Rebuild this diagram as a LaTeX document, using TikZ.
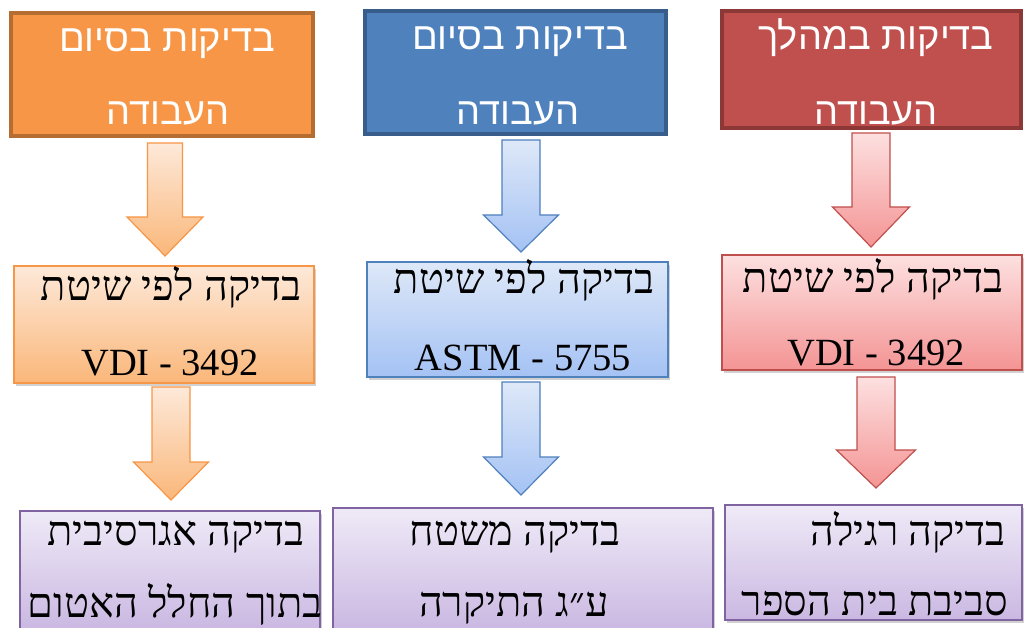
\documentclass[tikz,border=0pt]{standalone}
\usepackage{fontspec}
\setmainfont{Liberation Serif}
\newfontfamily\hebsans[Script=Hebrew]{Liberation Sans}
\newfontfamily\hebserif[Script=Hebrew]{Liberation Serif}
\TeXXeTstate=1
\usetikzlibrary{shadows}
\definecolor{orfill}{HTML}{F79646}
\definecolor{orline}{HTML}{B66D31}
\definecolor{blfill}{HTML}{4F81BD}
\definecolor{blline}{HTML}{385D8A}
\definecolor{rdfill}{HTML}{C0504D}
\definecolor{rdline}{HTML}{8C3836}
\definecolor{orA}{HTML}{FDE9D9}
\definecolor{orB}{HTML}{FAB77A}
\definecolor{blA}{HTML}{DEE8F8}
\definecolor{blB}{HTML}{A4C2F4}
\definecolor{rdA}{HTML}{FDE0E0}
\definecolor{rdB}{HTML}{F49494}
\definecolor{puA}{HTML}{EFEAF7}
\definecolor{puB}{HTML}{CAB8E2}
\definecolor{puline}{HTML}{8064A2}
\tikzset{
  box/.style={rectangle, inner sep=0pt, outer sep=0pt},
  topbox/.style={box, line width=3.5pt},
  gradbox/.style 2 args={box, line width=1.2pt, draw=#2, top color=#1A, bottom color=#1B,
     drop shadow={shadow xshift=2pt, shadow yshift=-3pt, opacity=0.18, fill=black}},
  arrowshape/.style 2 args={line width=1.2pt, draw=#2, top color=#1A, bottom color=#1B, line join=miter},
  toptxt/.style={anchor=base, inner sep=0pt, text=white, font=\hebsans\fontsize{38}{40}\selectfont},
  heb/.style={anchor=base, inner sep=0pt, text=black, font=\hebserif\fontsize{41.5}{44}\selectfont},
  lat/.style={anchor=base, inner sep=0pt, text=black, font=\fontsize{38.5}{40}\selectfont},
}
% block arrow: cx, ytop, yhead, ytip, half shaft, half head
\newcommand{\blockarrow}[8]{%
  \shade[arrowshape={#7}{#8}]
    (#1-#5,#2) -- (#1+#5,#2) -- (#1+#5,#3) -- (#1+#6,#3) -- (#1,#4)
    -- (#1-#6,#3) -- (#1-#5,#3) -- cycle;}
\begin{document}
\begin{tikzpicture}[x=1pt,y=-1pt]
\useasboundingbox[fill=white] (0,0) rectangle (1024,628);

% top row
\node[topbox, fill=orfill, draw=orline, minimum width=302pt, minimum height=123pt] (o1) at (162,74.5) {};
\node[topbox, fill=blfill, draw=blline, minimum width=301pt, minimum height=123pt] (b1) at (515.5,72.5) {};
\node[topbox, fill=rdfill, draw=rdline, minimum width=299pt, minimum height=117pt] (r1) at (871.5,69.5) {};

% middle row
\node[gradbox={or}{orfill}, minimum width=300pt, minimum height=117pt] (o2) at (164,324.5) {};
\node[gradbox={bl}{blfill}, minimum width=301pt, minimum height=115pt] (b2) at (517.5,319.5) {};
\node[gradbox={rd}{rdfill}, minimum width=300pt, minimum height=115pt] (r2) at (872,312.5) {};

% bottom row
\node[gradbox={pu}{puline}, minimum width=300pt, minimum height=118pt] (o3) at (170,570) {};
\node[gradbox={pu}{puline}, minimum width=380pt, minimum height=122pt] (b3) at (523,569) {};
\node[gradbox={pu}{puline}, minimum width=297pt, minimum height=115pt] (r3) at (873.5,562.5) {};

% arrows
\blockarrow{165}{143}{217}{256}{17.5}{38}{or}{orfill}
\blockarrow{171}{387}{462}{500}{19}{37.5}{or}{orfill}
\blockarrow{521}{140}{215}{252}{19}{37.5}{bl}{blfill}
\blockarrow{521}{382}{457}{495}{19}{37.5}{bl}{blfill}
\blockarrow{871}{133}{207}{247}{19}{38.5}{rd}{rdfill}
\blockarrow{876}{377}{450}{488}{19}{39.5}{rd}{rdfill}

% top texts
\node[toptxt] (t1a) at (167,52) {\beginR בדיקות בסיום\endR};
\node[toptxt] (t1b) at (168,125) {\beginR העבודה\endR};
\node[toptxt] (t2a) at (520,50) {\beginR בדיקות בסיום\endR};
\node[toptxt] (t2b) at (518,125) {\beginR העבודה\endR};
\node[toptxt] (t3a) at (876,50) {\beginR בדיקות במהלך\endR};
\node[toptxt] (t3b) at (876,125) {\beginR העבודה\endR};

% middle texts
\node[heb] (m1a) at (171,300) {\beginR בדיקה לפי שיטת\endR};
\node[lat] (m1b) at (170,375) {VDI - 3492};
\node[heb] (m2a) at (524,293) {\beginR בדיקה לפי שיטת\endR};
\node[lat] (m2b) at (523,370) {ASTM - 5755};
\node[heb] (m3a) at (873,292) {\beginR בדיקה לפי שיטת\endR};
\node[lat] (m3b) at (876,365) {VDI - 3492};

% bottom texts
\node[heb] (l1a) at (176,545) {\beginR בדיקה אגרסיבית\endR};
\node[heb] (l1b) at (175,617) {\beginR בתוך החלל האטום\endR};
\node[heb] (l2a) at (515,545) {\beginR בדיקה משטח\endR};
\node[heb] (l2b) at (514,616) {\beginR ע״ג התיקרה\endR};
\node[heb] (l3a) at (908,545) {\beginR בדיקה רגילה\endR};
\node[heb] (l3b) at (875,615) {\beginR סביבת בית הספר\endR};
\end{tikzpicture}
\end{document}
